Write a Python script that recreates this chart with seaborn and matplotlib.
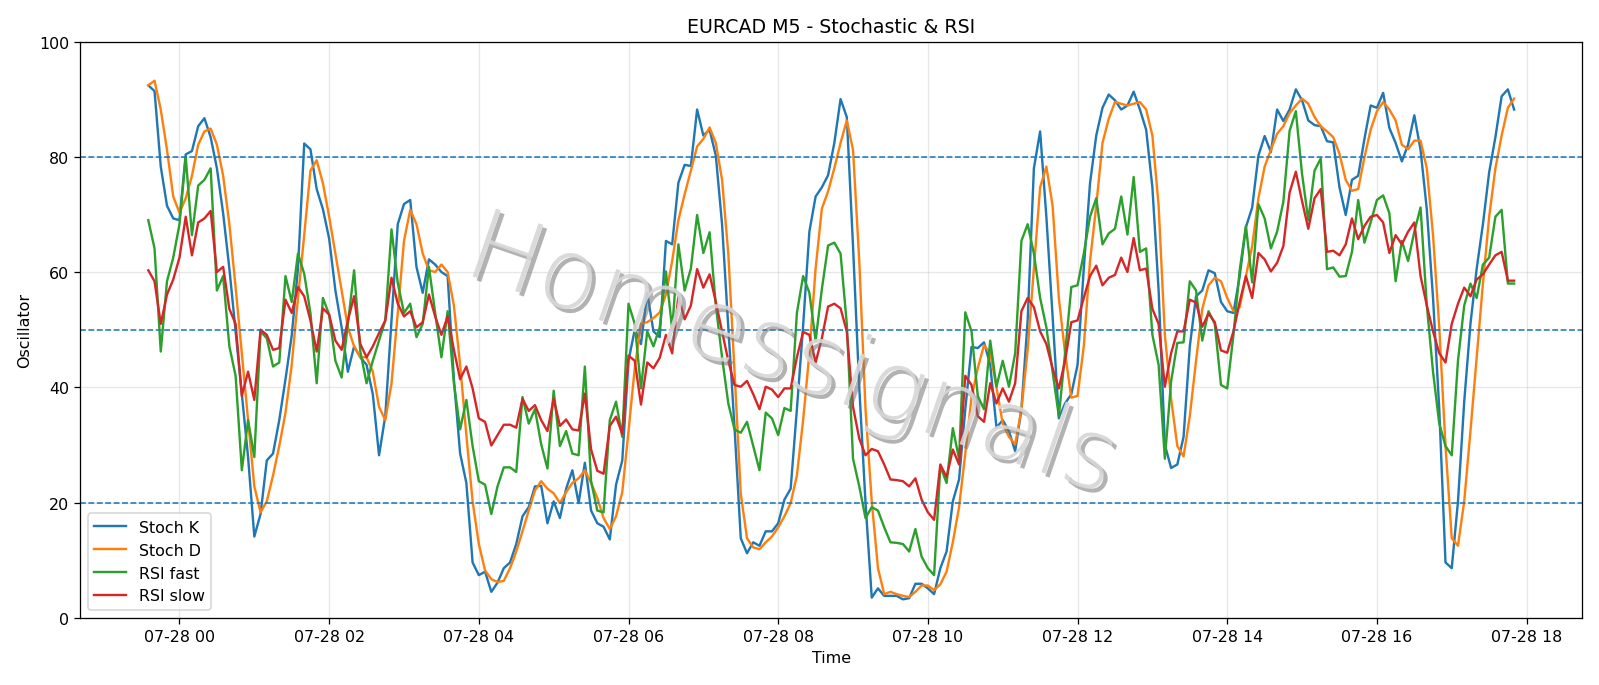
import matplotlib
matplotlib.use("Agg")
import matplotlib.pyplot as plt
import matplotlib.dates as mdates
import matplotlib.patheffects as pe
from matplotlib import font_manager
import pandas as pd
import seaborn as sns

# 5-minute bars, EURCAD
times = pd.date_range("2025-07-27 23:35", periods=220, freq="5min")

stoch_k = [
    92.4, 91.4, 78.3, 71.5, 69.3, 69.0, 80.4, 81.0, 85.3, 86.7,
    83.4, 78.0, 70.2, 60.6, 49.7, 38.8, 27.9, 14.1, 18.0, 27.3,
    28.5, 34.3, 41.4, 49.0, 60.6, 82.3, 81.3, 74.4, 70.9, 65.8,
    56.8, 50.4, 42.7, 47.1, 45.2, 43.9, 38.8, 28.2, 35.0, 51.6,
    68.3, 71.8, 72.5, 60.9, 56.4, 62.2, 61.3, 60.0, 59.3, 41.4,
    28.5, 23.4, 9.6, 7.4, 8.0, 4.5, 6.1, 8.6, 9.6, 12.8,
    17.6, 19.2, 22.8, 22.9, 16.4, 20.2, 17.3, 22.4, 25.6, 19.9,
    26.9, 18.6, 16.4, 15.8, 13.6, 23.1, 27.3, 44.6, 50.0, 47.5,
    56.4, 49.7, 48.7, 65.4, 64.8, 75.5, 78.6, 78.4, 88.2, 83.7,
    84.7, 80.2, 68.3, 50.4, 33.0, 13.8, 11.2, 13.1, 12.5, 15.0,
    15.0, 16.4, 20.5, 22.4, 36.2, 50.7, 67.0, 73.1, 74.7, 76.8,
    82.4, 90.0, 86.9, 64.5, 40.0, 20.0, 3.5, 5.1, 3.8, 3.8,
    3.8, 3.2, 3.4, 5.9, 5.9, 5.1, 4.1, 8.6, 11.5, 20.2,
    24.0, 36.2, 47.0, 46.8, 47.8, 43.9, 33.0, 34.3, 32.4, 28.9,
    36.2, 51.6, 78.0, 84.4, 69.6, 52.3, 34.6, 37.2, 38.8, 43.9,
    60.6, 75.4, 83.7, 88.5, 90.8, 89.8, 88.2, 88.9, 91.3, 88.2,
    84.7, 74.7, 56.8, 30.0, 26.0, 26.6, 31.4, 47.1, 55.8, 56.8,
    60.3, 59.8, 54.8, 53.2, 52.9, 59.3, 67.8, 71.2, 80.2, 83.6,
    80.8, 88.2, 86.2, 88.2, 91.7, 89.8, 86.3, 85.5, 85.3, 82.7,
    82.5, 74.7, 69.9, 76.0, 76.7, 83.1, 88.9, 88.5, 91.1, 85.0,
    82.4, 79.2, 82.1, 87.2, 81.2, 70.9, 55.5, 36.2, 9.6, 8.6,
    20.2, 37.5, 51.0, 60.6, 68.3, 77.3, 83.4, 90.5, 91.7, 88.2,
]

stoch_d = [
    92.4, 93.2, 88.2, 81.2, 73.1, 70.3, 72.8, 76.7, 82.1, 84.4,
    84.9, 82.1, 76.7, 68.3, 57.4, 45.9, 34.3, 22.8, 18.3, 20.2,
    24.7, 29.8, 35.6, 43.9, 55.5, 66.4, 77.6, 79.4, 75.4, 69.6,
    63.2, 56.8, 50.4, 47.1, 45.2, 45.2, 42.7, 36.6, 34.3, 40.7,
    52.9, 65.4, 70.8, 68.3, 63.2, 60.3, 60.0, 61.3, 60.0, 54.2,
    43.9, 31.7, 20.2, 12.8, 8.2, 6.7, 6.2, 6.4, 8.6, 11.5,
    15.0, 18.6, 22.1, 23.7, 22.4, 21.6, 19.9, 21.8, 23.4, 24.2,
    25.6, 23.4, 20.8, 17.3, 15.4, 17.6, 21.8, 32.4, 43.3, 51.0,
    51.3, 52.0, 53.0, 56.1, 61.9, 69.0, 73.5, 77.6, 81.8, 83.1,
    85.1, 82.4, 76.0, 63.2, 42.7, 21.5, 13.8, 12.2, 11.9, 13.1,
    14.1, 15.7, 17.6, 19.9, 24.7, 34.3, 45.9, 60.6, 71.0, 74.0,
    78.0, 82.4, 86.3, 81.2, 61.9, 36.2, 20.2, 8.6, 4.1, 4.5,
    4.1, 3.8, 3.6, 4.5, 5.6, 5.6, 4.8, 5.8, 8.0, 13.1,
    19.2, 28.5, 38.2, 43.3, 47.3, 45.9, 40.0, 33.7, 31.4, 30.1,
    36.2, 46.5, 60.6, 74.7, 78.3, 71.5, 55.5, 45.9, 38.2, 38.5,
    47.1, 61.9, 71.5, 82.4, 86.6, 89.5, 89.2, 88.9, 89.2, 89.5,
    88.2, 83.7, 71.5, 49.1, 38.0, 29.8, 28.0, 35.0, 44.6, 53.6,
    57.7, 59.0, 58.4, 55.5, 53.2, 53.9, 59.3, 64.5, 72.8, 78.3,
    81.2, 84.0, 85.3, 87.6, 88.9, 90.1, 89.2, 86.9, 85.3, 84.4,
    83.4, 80.5, 76.0, 74.1, 74.4, 79.9, 84.7, 87.9, 89.5, 88.2,
    86.3, 82.1, 81.3, 82.8, 82.8, 78.0, 66.4, 50.4, 29.8, 13.8,
    12.5, 20.2, 32.4, 45.2, 58.0, 69.6, 78.0, 83.7, 88.5, 90.1,
]

rsi_fast = [
    69.0, 64.1, 46.2, 58.4, 62.5, 68.3, 80.0, 66.4, 75.0, 76.0,
    78.0, 56.8, 59.3, 47.1, 42.0, 25.6, 34.3, 27.9, 49.7, 48.5,
    43.6, 44.3, 59.3, 54.8, 63.2, 59.7, 52.9, 40.7, 55.5, 52.6,
    44.6, 41.7, 51.0, 60.3, 46.2, 40.7, 44.6, 48.1, 51.6, 67.4,
    58.1, 52.9, 54.5, 48.7, 51.0, 60.9, 52.9, 45.2, 53.2, 40.7,
    32.7, 37.8, 29.8, 23.7, 23.1, 18.0, 22.8, 26.1, 26.1, 25.3,
    38.3, 33.7, 36.2, 30.1, 25.9, 39.4, 29.8, 32.4, 28.5, 28.2,
    43.6, 23.7, 18.6, 18.3, 34.3, 37.5, 31.4, 54.5, 51.0, 39.8,
    49.7, 47.1, 50.4, 60.1, 50.0, 64.8, 56.8, 60.6, 69.9, 63.3,
    66.9, 54.2, 45.2, 37.2, 32.7, 32.1, 34.0, 29.8, 25.6, 35.6,
    34.6, 31.7, 36.4, 35.9, 52.9, 59.3, 56.4, 48.1, 57.0, 64.6,
    65.1, 63.2, 51.0, 27.6, 22.8, 17.3, 19.2, 18.6, 15.7, 13.1,
    13.0, 12.8, 11.5, 15.4, 10.6, 8.6, 7.4, 26.3, 23.4, 32.9,
    27.6, 53.0, 49.7, 38.5, 36.2, 48.1, 40.1, 44.6, 40.1, 45.9,
    65.4, 68.3, 63.2, 55.5, 50.4, 42.7, 35.0, 45.9, 57.4, 57.7,
    63.2, 69.6, 72.8, 64.8, 66.7, 67.5, 73.1, 66.5, 76.5, 63.5,
    64.1, 49.1, 43.9, 27.6, 41.0, 47.7, 47.8, 58.4, 56.8, 48.1,
    53.2, 51.0, 40.4, 39.8, 49.1, 60.3, 68.0, 58.2, 71.8, 69.3,
    64.1, 67.0, 72.2, 84.5, 87.9, 77.0, 69.0, 77.6, 79.7, 60.5,
    60.8, 59.2, 59.3, 63.5, 72.5, 65.1, 68.6, 72.5, 73.3, 70.2,
    58.4, 65.4, 61.9, 67.0, 71.2, 54.2, 42.7, 33.7, 29.8, 28.2,
    44.6, 54.2, 58.0, 55.5, 61.3, 62.5, 69.6, 70.8, 58.0, 58.0,
]

rsi_slow = [
    60.3, 58.4, 51.0, 56.1, 58.7, 62.5, 69.6, 62.9, 68.6, 69.3,
    70.6, 60.0, 60.9, 53.6, 51.0, 38.5, 42.7, 37.8, 50.0, 49.1,
    46.5, 46.8, 55.2, 52.9, 57.4, 55.8, 51.6, 46.2, 53.7, 52.6,
    48.1, 46.5, 51.6, 55.8, 47.5, 45.2, 47.1, 49.4, 51.6, 59.0,
    54.5, 52.3, 53.2, 50.4, 51.3, 56.1, 52.3, 49.1, 52.3, 46.5,
    41.4, 43.6, 39.8, 34.6, 34.0, 29.9, 31.7, 33.5, 33.5, 33.0,
    38.0, 35.9, 36.9, 34.3, 32.4, 38.0, 33.3, 34.4, 32.7, 32.5,
    38.9, 29.2, 25.5, 25.0, 33.3, 34.9, 31.9, 45.5, 44.6, 37.0,
    44.3, 43.3, 45.1, 49.1, 45.9, 55.8, 51.8, 54.2, 60.5, 57.3,
    59.6, 54.8, 49.7, 44.6, 40.4, 40.1, 41.1, 38.8, 36.2, 40.1,
    39.6, 38.3, 39.8, 39.8, 45.2, 49.6, 49.1, 44.3, 48.5, 54.0,
    54.5, 53.7, 49.7, 36.6, 31.1, 28.2, 29.3, 28.9, 26.6, 24.0,
    23.9, 23.7, 22.8, 24.2, 20.5, 18.3, 17.0, 26.6, 24.4, 29.2,
    26.6, 42.0, 40.4, 35.0, 34.0, 40.7, 37.2, 39.8, 37.5, 40.7,
    53.2, 55.5, 53.9, 49.7, 47.5, 43.3, 39.8, 44.6, 51.3, 51.6,
    55.5, 59.3, 61.1, 57.7, 59.0, 59.5, 62.5, 60.0, 65.9, 60.3,
    60.6, 53.6, 51.0, 40.1, 45.9, 49.7, 49.7, 55.2, 54.7, 50.5,
    52.8, 51.3, 46.4, 46.0, 49.7, 54.8, 59.3, 55.5, 63.3, 62.2,
    60.1, 61.6, 64.5, 73.8, 77.4, 72.3, 67.5, 72.8, 74.4, 63.5,
    63.7, 62.9, 64.8, 69.3, 65.7, 68.0, 69.6, 69.9, 68.6, 63.3,
    66.4, 64.8, 67.0, 68.6, 59.3, 54.2, 49.7, 45.9, 44.3, 51.0,
    54.5, 57.3, 55.8, 58.7, 59.6, 61.3, 62.9, 63.5, 58.5, 58.5,
]

series_names = ["Stoch K", "Stoch D", "RSI fast", "RSI slow"]
series_colors = ["tab:blue", "tab:orange", "tab:green", "tab:red"]
levels = [20, 50, 80]

df = pd.DataFrame({
    "Time": times,
    "Stoch K": stoch_k,
    "Stoch D": stoch_d,
    "RSI fast": rsi_fast,
    "RSI slow": rsi_slow,
})


def thin_font():
    # pick a light-weight face for the watermark if one is installed
    for fam in ["DejaVu Sans", "Open Sans", "Lato", "Roboto", "Noto Sans", "Inter"]:
        for f in font_manager.fontManager.ttflist:
            w = f.weight if isinstance(f.weight, int) else 400
            if f.name == fam and w <= 300 and f.style in ("italic", "oblique"):
                return font_manager.FontProperties(fname=f.fname), False
        for f in font_manager.fontManager.ttflist:
            w = f.weight if isinstance(f.weight, int) else 400
            if f.name == fam and w <= 300 and f.style == "normal":
                return font_manager.FontProperties(fname=f.fname), True
    return font_manager.FontProperties(family="DejaVu Sans", style="italic"), False


fig, ax = plt.subplots(figsize=(14, 6.0025), dpi=114.2857)

for name, color in zip(series_names, series_colors):
    sns.lineplot(x=df["Time"], y=df[name], ax=ax, color=color, linewidth=1.5, label=name)

for lvl in levels:
    ax.axhline(lvl, linestyle="--", linewidth=1, color="tab:blue")

ax.set_ylim(0, 100)
ax.xaxis.set_major_locator(mdates.HourLocator(byhour=range(0, 24, 2)))
ax.xaxis.set_major_formatter(mdates.DateFormatter("%m-%d %H"))
ax.grid(True, alpha=0.3)
ax.set_title("EURCAD M5 - Stochastic & RSI")
ax.set_xlabel("Time")
ax.set_ylabel("Oscillator")
ax.legend(loc="lower left")

# watermark
fp, need_slant = thin_font()
fp.set_size(62)
wm = ax.text(0.474, 0.452, "Homessignals", transform=ax.transAxes,
             fontproperties=fp, rotation=-19, ha="center", va="center",
             color="0.84", alpha=0.9, zorder=10,
             path_effects=[pe.SimplePatchShadow(offset=(2.5, -2.5), shadow_rgbFace="0.45", alpha=0.55),
                           pe.Normal()])

fig.subplots_adjust(left=0.05, right=0.989, top=0.938, bottom=0.098)
plt.savefig("out.png")
